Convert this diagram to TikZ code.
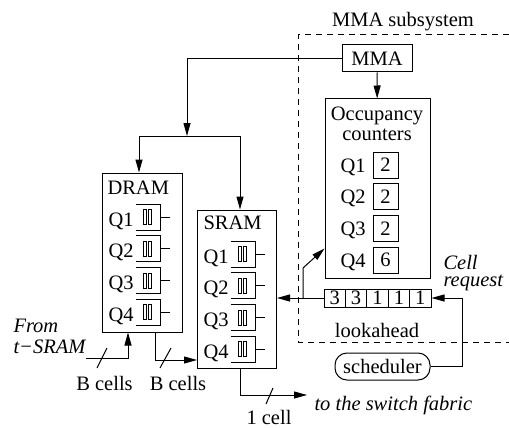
\documentclass[tikz,border=0pt]{standalone}
\usepackage{fontspec}
\setmainfont{LiberationSerif}[Extension=.ttf, UprightFont=*-Regular, ItalicFont=*-Italic, BoldFont=*-Bold, BoldItalicFont=*-BoldItalic]
\usepackage{tikz}
\usetikzlibrary{positioning,calc,arrows.meta}

% queue icon: #1 = x of right side, #2 = y of middle
\newcommand{\qbuf}[2]{%
  \draw (#1-24,#2-13) -- (#1,#2-13) -- (#1,#2+13) -- (#1-24,#2+13);
  \draw[line width=0.7pt] (#1-17,#2-7.5) rectangle (#1-14,#2+7.5);
  \draw[line width=0.7pt] (#1-12,#2-7.5) rectangle (#1-8.5,#2+7.5);
  \draw (#1,#2) -- (#1+10,#2);
}

\begin{document}
\begin{tikzpicture}[x=1pt, y=-1pt, line width=1pt, >={Triangle[length=13pt,width=7pt]},
    every node/.style={font=\fontsize{20.5}{22}\selectfont, inner sep=0pt},
    box/.style={draw, minimum width=#1},
    lbl/.style={anchor=base west}]
    \useasboundingbox (0,0) rectangle (509,428);

    % memories
    \node [box=80pt, minimum height=159pt] (dram) at (142,252.5) {};
    \node [box=79pt, minimum height=158pt] (sram) at (237,289) {};
    \node [lbl] (dramlbl) at (107,194) {DRAM};
    \node [lbl] (sramlbl) at (203,229) {SRAM};
    \foreach \i in {1,...,4} {
        \pgfmathsetmacro\yd{226+31.7*(\i-1)}
        \pgfmathsetmacro\ys{263+31.7*(\i-1)}
        \node [lbl] (dq\i) at (108,\yd) {Q\i};
        \qbuf{160}{\yd-9}
        \node [lbl] (sq\i) at (203,\ys) {Q\i};
        \qbuf{255}{\ys-9}
    }

    % MMA subsystem
    \draw [dash pattern=on 6pt off 5pt] (509,35) -- (298,35) -- (298,342) -- (509,342);
    \node [anchor=base] (subsys) at (403,27) {MMA subsystem};
    \node [box=70pt, minimum height=27pt] (mma) at (377,58.5) {MMA};
    \node [box=105pt, minimum height=179pt] (occ) at (377.5,188.5) {};
    \node [anchor=base] (occlbl) at (377,121) {Occupancy};
    \node [anchor=base] (cntlbl) at (377,140) {counters};
    \foreach \i/\n in {1/2,2/2,3/2,4/6} {
        \pgfmathsetmacro\yo{172+31.7*(\i-1)}
        \node [lbl] (oq\i) at (340,\yo) {Q\i};
        \node [box=25pt, minimum height=26pt] (cnt\i) at (385.5,\yo-7) {\n};
    }
    \foreach \i/\n in {1/3,2/3,3/1,4/1,5/1}
        \node [box=21.4pt, minimum height=18pt] (la\i) at (324+21.4*\i-10.7,298) {\n};
    \node [anchor=base] (lalbl) at (377,337) {lookahead};
    \node [draw, rounded corners=12pt, minimum width=95pt, minimum height=27pt] (sched) at (382.5,366.5) {scheduler};
    \node [lbl] (req1) at (443,269) {\textit{Cell}};
    \node [lbl] (req2) at (443,286.5) {\textit{request}};

    % outside labels
    \node [lbl] (from1) at (13,332) {\textit{From}};
    \node [lbl] (from2) at (13,353) {\textit{t−SRAM}};
    \node [anchor=base] (bcells1) at (104.5,390) {B cells};
    \node [anchor=base] (bcells2) at (178,390) {B cells};
    \node [anchor=base] (onecell) at (269,424) {1 cell};
    \node [lbl] (fabric) at (314,410) {\textit{to the switch fabric}};

    \coordinate (split) at (187,136);
    \coordinate (br) at (303,298);
    \coordinate (tsram) at (86,358);
    \coordinate (sramin) at (197,360);
    \coordinate (out) at (307,395);

    \draw [->] (mma.west) -| (split);
    \draw [->] (split) -| ([xshift=-3pt]dram.north);
    \draw [->] (split) -| ([xshift=3pt]sram.north);
    \draw [->] (mma) -- (occ);
    \draw [->] (la1.west) -- (la1.west -| sram.east);
    \draw [->] (br) -- (303,268) -- ([yshift=30pt]occ.south west); % update counters
    \draw [->] (sched.east) -- ++(32,0) |- (la5.east);
    \draw [->] (tsram) -| ([xshift=-14pt]dram.south);
    \draw [->] ([xshift=13pt]dram.south) |- (sramin);
    \draw [->] ([xshift=3pt]sram.south) |- (out);

    % bus width marks
    \draw (97,368) -- (107,348);
    \draw (160,368) -- (171,348);
    \draw (266,404) -- (273,388);
\end{tikzpicture}
\end{document}
